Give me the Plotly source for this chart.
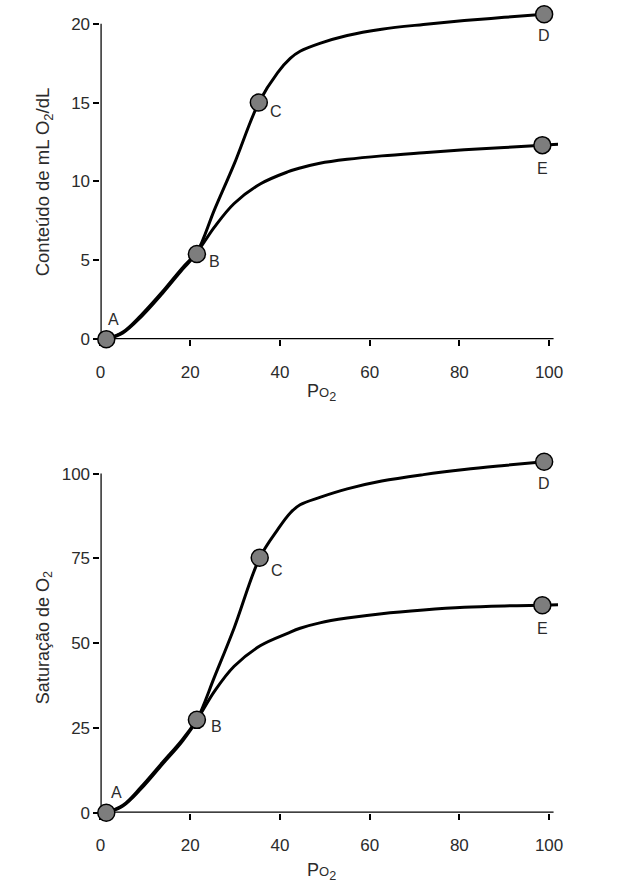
import plotly.graph_objects as go
from plotly.subplots import make_subplots

# ---------------- data ----------------
# Top panel: O2 content (mL O2/dL) vs PO2
top_upper_x = [1.3, 5.0, 9.0, 13.8, 18.2, 21.5, 25.4, 29.8, 35.3, 39.5, 42.3, 44.5, 48.9, 55.0, 62.7, 72.0, 81.1, 90.0, 98.9]
top_upper_y = [0.0, 0.4, 1.4, 2.9, 4.4, 5.5, 8.2, 11.1, 15.0, 16.9, 17.8, 18.25, 18.75, 19.25, 19.65, 19.95, 20.2, 20.4, 20.6]
top_lower_x = [1.3, 5.0, 9.0, 13.8, 18.2, 21.5, 25.4, 29.8, 35.7, 41.7, 44.5, 48.9, 55.0, 62.7, 72.0, 81.1, 90.0, 98.5, 102.0]
top_lower_y = [0.0, 0.45, 1.5, 3.0, 4.5, 5.5, 7.1, 8.6, 9.85, 10.6, 10.85, 11.15, 11.4, 11.62, 11.82, 12.0, 12.15, 12.3, 12.35]
top_pts_x = [1.3, 21.5, 35.3, 98.9, 98.5]
top_pts_y = [0.0, 5.4, 15.0, 20.6, 12.3]

# Bottom panel: O2 saturation vs PO2
bot_upper_x = [1.3, 5.0, 9.0, 13.8, 18.2, 21.5, 25.4, 29.8, 35.5, 39.5, 42.3, 44.5, 48.9, 55.0, 62.7, 72.0, 81.1, 90.0, 98.9]
bot_upper_y = [0.0, 2.0, 7.0, 14.3, 21.0, 27.4, 40.0, 54.5, 75.2, 83.5, 88.4, 90.8, 93.0, 95.5, 97.8, 99.7, 101.2, 102.4, 103.5]
bot_lower_x = [1.3, 5.0, 9.0, 13.8, 18.2, 21.5, 25.4, 29.8, 35.7, 41.7, 44.5, 48.9, 55.0, 62.7, 72.0, 81.1, 90.0, 98.5, 102.0]
bot_lower_y = [0.0, 2.2, 7.5, 14.8, 21.5, 27.4, 35.8, 43.2, 49.3, 52.9, 54.4, 56.0, 57.4, 58.7, 59.8, 60.6, 61.0, 61.2, 61.3]
bot_pts_x = [1.3, 21.5, 35.5, 98.9, 98.5]
bot_pts_y = [0.0, 27.4, 75.2, 103.5, 61.2]

pt_labels = ["A", "B", "C", "D", "E"]
x_ticks = [0, 20, 40, 60, 80, 100]
top_y_ticks = [0, 5, 10, 15, 20]
bot_y_ticks = [0, 25, 50, 75, 100]

top_label_shift = [(7, 20), (18, -8), (17, -9), (0, -21), (0, -23)]
bot_label_shift = [(10, 20), (20, -7), (17, -13), (0, -22), (0, -23)]

# ---------------- figure ----------------
W, H = 628, 892
FONT = "Liberation Sans, Arial, sans-serif"
TXT = "#2b2b2b"

fig = make_subplots(rows=2, cols=1)

def add_panel(row, ux, uy, lx, ly, px, py):
    line = dict(color="black", width=3, shape="spline", smoothing=1.0)
    fig.add_trace(go.Scatter(x=ux, y=uy, mode="lines", line=line, hoverinfo="skip"), row=row, col=1)
    fig.add_trace(go.Scatter(x=lx, y=ly, mode="lines", line=line, hoverinfo="skip"), row=row, col=1)
    fig.add_trace(go.Scatter(x=px, y=py, mode="markers", cliponaxis=False,
                             marker=dict(size=17, color="#7d7d7d", line=dict(color="black", width=1.5)),
                             hoverinfo="skip"), row=row, col=1)

add_panel(1, top_upper_x, top_upper_y, top_lower_x, top_lower_y, top_pts_x, top_pts_y)
add_panel(2, bot_upper_x, bot_upper_y, bot_lower_x, bot_lower_y, bot_pts_x, bot_pts_y)

# axis placement (pixels -> paper fractions)
x_dom = [97 / W, 562 / W]
top_dom = [1 - 343 / H, 1 - 8 / H]
bot_dom = [1 - 822 / H, 1 - 458.4 / H]

axis_common = dict(showgrid=False, zeroline=False, showline=False, ticks="outside",
                   ticklen=6, tickwidth=1.5, tickcolor="black",
                   tickfont=dict(family=FONT, size=17, color=TXT), layer="below traces")

fig.update_xaxes(range=[0, 102], domain=x_dom, tickvals=x_ticks, ticklabelstandoff=11, **axis_common)
fig.update_yaxes(row=1, col=1, range=[0, 21], domain=top_dom, tickvals=top_y_ticks, **axis_common)
fig.update_yaxes(row=2, col=1, range=[0, 106], domain=bot_dom, tickvals=bot_y_ticks, **axis_common)

# axis lines (stop at the last tick like the reference)
shapes = []
for xr, yr, ytop in (("x", "y", top_y_ticks[-1]), ("x2", "y2", bot_y_ticks[-1])):
    shapes.append(dict(type="line", xref=xr, yref=yr, x0=0, x1=101, y0=0, y1=0,
                       line=dict(color="black", width=2.5), layer="below"))
    shapes.append(dict(type="line", xref=xr, yref=yr, x0=0, x1=0, y0=0, y1=ytop,
                       line=dict(color="black", width=2.5), layer="below"))

annotations = []
for (xr, yr, pxs, pys, shifts) in (("x", "y", top_pts_x, top_pts_y, top_label_shift),
                                    ("x2", "y2", bot_pts_x, bot_pts_y, bot_label_shift)):
    for lab, x, y, (dx, dy) in zip(pt_labels, pxs, pys, shifts):
        annotations.append(dict(xref=xr, yref=yr, x=x, y=y, text=lab, showarrow=False,
                                xshift=dx, yshift=dy, xanchor="center", yanchor="middle",
                                font=dict(family=FONT, size=16, color=TXT)))

title_font = dict(family=FONT, size=18, color=TXT)
annotations += [
    dict(xref="paper", yref="paper", x=40 / W, y=1 - 184 / H, text="Conteúdo de mL O<sub>2</sub>/dL",
         textangle=-90, showarrow=False, xanchor="center", yanchor="middle",
         font=dict(family=FONT, size=18.5, color=TXT)),
    dict(xref="paper", yref="paper", x=40 / W, y=1 - 645 / H, text="Saturação de O<sub>2</sub>",
         textangle=-90, showarrow=False, xanchor="center", yanchor="middle", font=title_font),
    dict(xref="paper", yref="paper", x=322 / W, y=1 - 397 / H,
         text="P<span style='font-size:13px'>O</span><sub>2</sub>", showarrow=False,
         xanchor="center", yanchor="middle", font=title_font),
    dict(xref="paper", yref="paper", x=322 / W, y=1 - 881 / H,
         text="P<span style='font-size:13px'>O</span><sub>2</sub>", showarrow=False,
         xanchor="center", yanchor="middle", font=title_font),
]

fig.update_layout(width=W, height=H, margin=dict(l=0, r=0, t=0, b=0),
                  paper_bgcolor="white", plot_bgcolor="white", showlegend=False,
                  shapes=shapes, annotations=annotations)

fig.write_html("out.html")
